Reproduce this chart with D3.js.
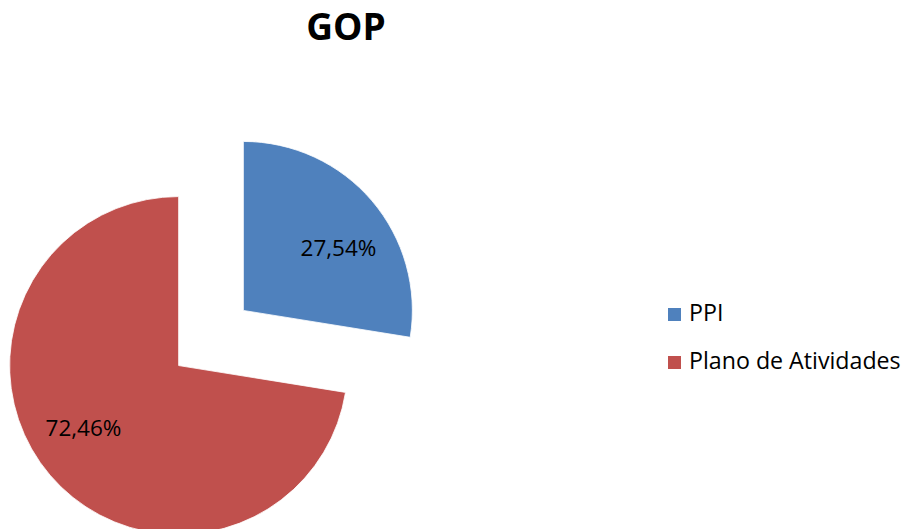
<!DOCTYPE html>
<html>
<head>
<meta charset="utf-8">
<script src="https://cdn.jsdelivr.net/npm/d3@7"></script>
<style>
  html, body { margin: 0; padding: 0; background: #ffffff; }
  svg { display: block; }
</style>
</head>
<body>
<svg id="chart" width="903" height="529"></svg>
<script>
const title = "GOP";
const categories = ["PPI", "Plano de Atividades"];
const values = [27.54, 72.46];
const labels = ["27,54%", "72,46%"];
const colors = ["#4F81BD", "#C0504D"];

const svg = d3.select("#chart");
const W = 903, H = 529;
svg.append("rect").attr("width", W).attr("height", H).attr("fill", "#ffffff");

const font = "'Open Sans', 'Liberation Sans', sans-serif";

svg.append("text")
  .attr("x", 346).attr("y", 40)
  .attr("text-anchor", "middle")
  .attr("font-family", font)
  .attr("font-weight", "bold")
  .attr("font-size", 37)
  .attr("fill", "#000")
  .text(title);

const cx = 211, cy = 338, R = 169, explode = 42.5;
const data = categories.map((c, i) => ({ cat: c, value: values[i], label: labels[i], color: colors[i] }));

const pie = d3.pie().sort(null).value(d => d.value).startAngle(0).endAngle(2 * Math.PI);
const arc = d3.arc().innerRadius(0).outerRadius(R);
const arcs = pie(data);

const g = svg.append("g").attr("transform", `translate(${cx},${cy})`);

const slice = g.selectAll("g.slice").data(arcs).enter().append("g")
  .attr("class", "slice")
  .attr("transform", d => {
    const a = (d.startAngle + d.endAngle) / 2;
    return `translate(${explode * Math.sin(a)},${-explode * Math.cos(a)})`;
  });

slice.append("path")
  .attr("d", arc)
  .attr("fill", d => d.data.color)
  .attr("stroke", "#ffffff")
  .attr("stroke-width", 0.8);

const labelR = 114, labelShift = 7 * Math.PI / 180;
slice.append("text")
  .attr("x", d => labelR * Math.sin((d.startAngle + d.endAngle) / 2 + labelShift))
  .attr("y", d => -labelR * Math.cos((d.startAngle + d.endAngle) / 2 + labelShift))
  .attr("dy", "0.35em")
  .attr("text-anchor", "middle")
  .attr("font-family", font)
  .attr("font-size", 22.5)
  .attr("fill", "#000")
  .text(d => d.data.label);

const legend = svg.append("g").attr("transform", "translate(668,308)");
const item = legend.selectAll("g").data(data).enter().append("g")
  .attr("transform", (d, i) => `translate(0,${i * 48})`);
item.append("rect").attr("width", 13).attr("height", 13).attr("fill", d => d.color);
item.append("text")
  .attr("x", 21).attr("y", 13)
  .attr("font-family", font)
  .attr("font-size", 23.2)
  .attr("fill", "#000")
  .text(d => d.cat);
</script>
</body>
</html>
